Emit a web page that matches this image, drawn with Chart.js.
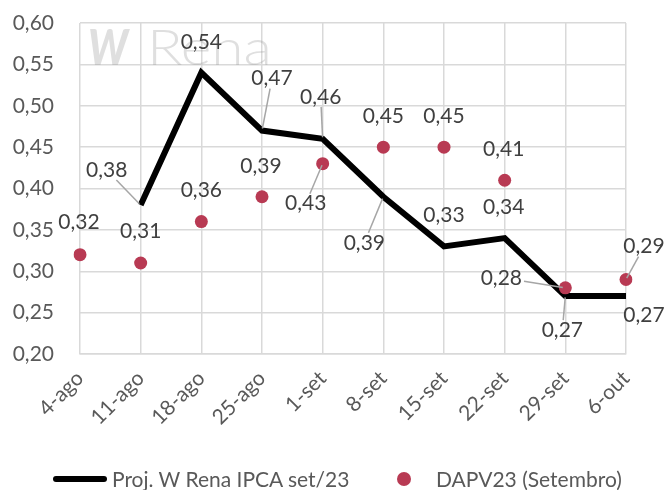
<!DOCTYPE html>
<html lang="pt-BR">
<head>
<meta charset="utf-8">
<title>Proj. W Rena IPCA set/23 x DAPV23</title>
<script src="https://cdn.jsdelivr.net/npm/chart.js@4.4.0/dist/chart.umd.min.js"></script>
<style>
  html, body { margin: 0; padding: 0; background: #fff; }
  #wrap { position: relative; width: 669px; height: 490px; font-family: Lato, "Open Sans", sans-serif; }
  #legend { position: absolute; left: 0; top: 466px; width: 669px; height: 24px; color: #595959; font-size: 21px; }
  .leg-line { position: absolute; left: 53px; top: 10px; width: 54px; height: 6px; background: #000; border-radius: 3px; }
  .leg-dot { position: absolute; left: 397px; top: 6px; width: 14px; height: 14px; border-radius: 50%; background: #B83A53; }
  .leg-text { position: absolute; top: 0; line-height: 26px; white-space: nowrap; }
</style>
</head>
<body>
<div id="wrap">
  <canvas id="chart" width="669" height="490"></canvas>
  <div id="legend">
    <span class="leg-line"></span><span class="leg-text" style="left:112px">Proj. W Rena IPCA set/23</span>
    <span class="leg-dot"></span><span class="leg-text" style="left:436px">DAPV23 (Setembro)</span>
  </div>
</div>
<script>
// Dados
const categorias = ['4-ago', '11-ago', '18-ago', '25-ago', '1-set', '8-set', '15-set', '22-set', '29-set', '6-out'];
const projWRena = [null, 0.38, 0.54, 0.47, 0.46, 0.39, 0.33, 0.34, 0.27, 0.27];
const dapv23 = [0.32, 0.31, 0.36, 0.39, 0.43, 0.45, 0.45, 0.41, 0.28, 0.29];
const eixoY = { min: 0.20, max: 0.60, passo: 0.05 };

const fmt = v => v.toFixed(2).replace('.', ',');

// posição dos rótulos em relação ao ponto [dx, dy, linha de chamada]
const rotulosLinha = [null, [-34, -35, true], [0, -30], [10, -52, true], [-2, -42, true],
  [-19, 46, true], [0, -31], [-1, -31], [-3, 34, true], [18, 19]];
const rotulosPontos = [[-1, -32], [0, -32], [0, -31], [-1, -31], [-17, 40, true],
  [0, -31], [0, -31], [-1, -31], [-64, -10, true], [18, -33, true]];

// marca d'água
const marcaDagua = {
  id: 'marcaDagua',
  beforeDatasetsDraw(chart) {
    const ctx = chart.ctx;
    ctx.save();
    ctx.fillStyle = 'rgba(150,150,150,0.3)';
    ctx.textBaseline = 'alphabetic';
    ctx.font = 'italic 900 50px Lato';
    let w = ctx.measureText('W').width;
    ctx.save();
    ctx.translate(88, 65);
    ctx.scale(40 / w, 1);
    ctx.fillText('W', 0, 0);
    ctx.restore();
    ctx.font = '300 50px Lato';
    w = ctx.measureText('Rena').width;
    ctx.translate(147, 65);
    ctx.scale(125 / w, 1);
    ctx.fillText('Rena', 0, 0);
    ctx.restore();
  }
};

// rótulos de dados com linhas de chamada
const rotulos = {
  id: 'rotulos',
  afterDatasetsDraw(chart) {
    const ctx = chart.ctx;
    ctx.save();
    ctx.font = '21px Lato';
    ctx.fillStyle = '#404040';
    ctx.textAlign = 'center';
    ctx.textBaseline = 'middle';
    const conf = [rotulosLinha, rotulosPontos];
    chart.data.datasets.forEach((ds, di) => {
      const meta = chart.getDatasetMeta(di);
      meta.data.forEach((pt, i) => {
        const v = ds.data[i];
        const o = conf[di][i];
        if (v === null || !o) return;
        const cx = pt.x + o[0], cy = pt.y + o[1];
        const txt = fmt(v);
        const hw = ctx.measureText(txt).width / 2 + 2, hh = 10;
        if (o[2]) {
          // ponto na borda da caixa do rótulo
          const dx = pt.x - cx, dy = pt.y - cy;
          const t = Math.min(Math.abs(dx) > 0 ? hw / Math.abs(dx) : Infinity,
                             Math.abs(dy) > 0 ? hh / Math.abs(dy) : Infinity);
          ctx.beginPath();
          ctx.strokeStyle = '#a6a6a6';
          ctx.lineWidth = 1.5;
          ctx.moveTo(cx + dx * t, cy + dy * t);
          ctx.lineTo(pt.x - dx * 0.04, pt.y - dy * 0.04);
          ctx.stroke();
        }
        ctx.fillText(txt, cx, cy);
      });
    });
    ctx.restore();
  }
};

const ctx = document.getElementById('chart').getContext('2d');
const grafico = new Chart(ctx, {
  type: 'line',
  data: {
    labels: categorias,
    datasets: [{
      label: 'Proj. W Rena IPCA set/23',
      data: projWRena,
      borderColor: '#000',
      borderWidth: 6,
      borderJoinStyle: 'miter',
      pointRadius: 0,
      tension: 0,
      order: 1
    }, {
      label: 'DAPV23 (Setembro)',
      data: dapv23,
      showLine: false,
      pointRadius: 6.5,
      pointHoverRadius: 6.5,
      pointBackgroundColor: '#B83A53',
      pointBorderWidth: 0,
      order: 0
    }]
  },
  options: {
    responsive: false,
    animation: false,
    layout: { padding: { left: 0, top: 23, right: 43, bottom: 0 } },
    plugins: { legend: { display: false }, tooltip: { enabled: false } },
    scales: {
      x: {
        offset: false,
        grid: { color: '#d9d9d9', lineWidth: 1.5, drawTicks: false },
        border: { color: '#d9d9d9', width: 1.5 },
        ticks: { color: '#595959', font: { family: 'Lato', size: 21 }, maxRotation: 45, minRotation: 45, padding: 12 },
        afterFit(s) { s.height = 136; }
      },
      y: {
        min: eixoY.min,
        max: eixoY.max,
        grid: { color: '#d9d9d9', lineWidth: 1.5, drawTicks: false },
        border: { display: false },
        ticks: { stepSize: eixoY.passo, color: '#595959', font: { family: 'Lato', size: 21 }, padding: 26,
                 callback: v => fmt(v) },
        afterFit(s) {
          s.width = 80;
          // o espaçamento dos rótulos não deve empurrar a área do gráfico
          s.paddingTop = 12;
          s.paddingBottom = 12;
        }
      }
    }
  },
  plugins: [marcaDagua, rotulos]
});
</script>
</body>
</html>
